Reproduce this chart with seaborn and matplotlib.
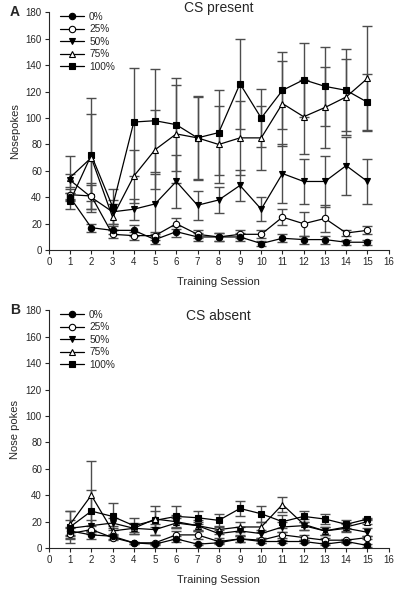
import numpy as np
import pandas as pd
import seaborn as sns
import matplotlib.pyplot as plt
from matplotlib.lines import Line2D

sessions = list(range(1, 16))
grupos = ['0%', '25%', '50%', '75%', '100%']

# painel A - CS present
a_0 = [40, 17, 15, 15, 8, 14, 10, 10, 10, 5, 9, 8, 8, 6, 6]
a_25 = [42, 41, 12, 11, 11, 20, 12, 10, 12, 12, 25, 20, 24, 13, 15]
a_50 = [53, 40, 29, 31, 35, 52, 34, 38, 49, 31, 58, 52, 52, 64, 52]
a_75 = [55, 70, 25, 56, 76, 88, 85, 80, 85, 85, 111, 101, 108, 116, 130]
a_100 = [37, 72, 33, 97, 98, 95, 85, 89, 126, 100, 121, 129, 124, 121, 112]

a_0_err = [3, 3, 3, 4, 3, 4, 3, 3, 3, 2, 3, 3, 3, 2, 2]
a_25_err = [4, 10, 3, 3, 3, 4, 3, 3, 3, 3, 6, 9, 10, 2, 3]
a_50_err = [5, 9, 9, 8, 23, 20, 11, 10, 12, 9, 22, 17, 19, 22, 17]
a_75_err = [16, 33, 10, 20, 30, 37, 31, 29, 28, 24, 32, 28, 31, 29, 40]
a_100_err = [6, 43, 13, 41, 39, 35, 32, 32, 34, 22, 29, 28, 30, 31, 21]

# painel B - CS absent
b_0 = [13, 10, 9, 4, 3, 7, 3, 4, 7, 5, 5, 5, 3, 5, 2]
b_25 = [11, 14, 8, 4, 4, 10, 10, 5, 7, 6, 10, 8, 6, 6, 8]
b_50 = [15, 17, 19, 15, 14, 19, 17, 11, 13, 11, 16, 17, 13, 15, 12]
b_75 = [18, 40, 13, 15, 22, 20, 17, 14, 16, 16, 33, 18, 13, 16, 20]
b_100 = [16, 28, 24, 17, 21, 24, 23, 21, 30, 26, 20, 24, 22, 18, 22]

b_0_err = [3, 3, 2, 1, 1, 2, 1, 1, 2, 1, 1, 1, 1, 1, 1]
b_25_err = [4, 3, 2, 1, 1, 3, 3, 1, 2, 2, 2, 2, 2, 1, 1]
b_50_err = [6, 4, 4, 3, 4, 4, 3, 3, 3, 3, 4, 3, 3, 3, 3]
b_75_err = [10, 26, 4, 4, 6, 5, 4, 3, 4, 4, 6, 4, 3, 3, 2]
b_100_err = [12, 16, 10, 6, 11, 8, 5, 5, 6, 6, 5, 4, 4, 3, 1]

estilos = {
    '0%': dict(marker='o', mfc='black'),
    '25%': dict(marker='o', mfc='white'),
    '50%': dict(marker='v', mfc='black'),
    '75%': dict(marker='^', mfc='white'),
    '100%': dict(marker='s', mfc='black'),
}

sns.set_style('ticks')
plt.rcParams['font.family'] = ['Liberation Sans', 'DejaVu Sans']

fig = plt.figure(figsize=(3.97, 5.90), dpi=100)
ax_a = fig.add_axes([0.123, 0.576, 0.856, 0.403])
ax_b = fig.add_axes([0.123, 0.071, 0.856, 0.403])


def painel(ax, medias, erros, titulo, ylabel, letra, title_pad):
    df = pd.DataFrame({
        'sessao': sessions * 5,
        'valor': sum(medias, []),
        'erro': sum(erros, []),
        'grupo': np.repeat(grupos, 15),
    })
    for g in grupos:
        d = df[df['grupo'] == g]
        ax.errorbar(d['sessao'], d['valor'], yerr=d['erro'], fmt='none',
                    ecolor='#4d4d4d', elinewidth=1.0, capsize=3.5, capthick=1.0, zorder=1)
    for g in grupos[::-1]:
        d = df[df['grupo'] == g]
        st = estilos[g]
        sns.lineplot(data=d, x='sessao', y='valor', ax=ax, color='black', lw=0.9,
                     marker=st['marker'], markerfacecolor=st['mfc'],
                     markeredgecolor='black', markersize=4.6, markeredgewidth=0.8,
                     legend=False, zorder=3)
    ax.set_xlim(0, 16)
    ax.set_ylim(0, 180)
    ax.set_xticks(range(0, 17))
    ax.set_yticks(range(0, 181, 20))
    ax.tick_params(labelsize=7, length=3, width=0.8, pad=2)
    ax.set_xlabel('Training Session', fontsize=8, labelpad=7)
    ax.set_ylabel(ylabel, fontsize=8, labelpad=4)
    ax.set_title(titulo, fontsize=10, pad=title_pad, y=1.0)
    for s in ['left', 'bottom']:
        ax.spines[s].set_linewidth(0.8)
    sns.despine(ax=ax)
    handles = [Line2D([], [], color='black', lw=0.9, marker=estilos[g]['marker'],
                      markerfacecolor=estilos[g]['mfc'], markeredgecolor='black',
                      markersize=4.6, markeredgewidth=0.8) for g in grupos]
    ax.legend(handles, grupos, loc='upper left', frameon=False, fontsize=7.3,
              handlelength=2.4, labelspacing=0.25, handletextpad=0.5,
              bbox_to_anchor=(0.02, 1.02), borderaxespad=0)
    ax.text(-0.115, 1.0, letra, transform=ax.transAxes, fontsize=10,
            fontweight='bold', va='center', ha='left')


painel(ax_a, [a_0, a_25, a_50, a_75, a_100],
       [a_0_err, a_25_err, a_50_err, a_75_err, a_100_err],
       'CS present', 'Nosepokes', 'A', 0)
painel(ax_b, [b_0, b_25, b_50, b_75, b_100],
       [b_0_err, b_25_err, b_50_err, b_75_err, b_100_err],
       'CS absent', 'Nose pokes', 'B', -7)

fig.savefig('out.png', dpi=100)
